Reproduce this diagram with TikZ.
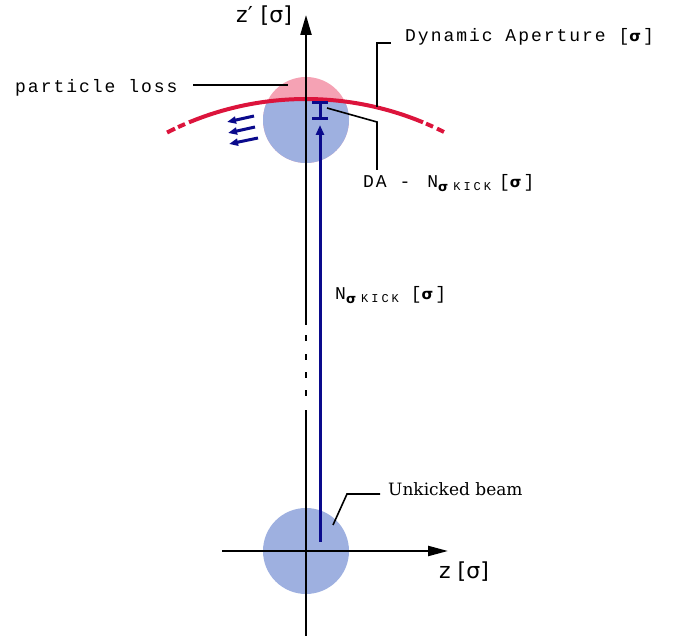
\documentclass[tikz,border=0pt]{standalone}
\usepackage{fontspec}
\usetikzlibrary{arrows.meta,calc}
\setmainfont{DejaVu Serif}
\newfontfamily\cour[LetterSpace=11]{Liberation Mono}
\newfontfamily\courS[LetterSpace=25]{Liberation Mono}
\newfontfamily\sig{DejaVu Sans}
\newfontfamily\axfont{DejaVu Sans}
\definecolor{beamblue}{RGB}{158,176,224}
\definecolor{losspink}{RGB}{245,162,180}
\definecolor{dared}{RGB}{220,20,60}
\definecolor{kicknavy}{RGB}{10,10,140}
\tikzset{
  axisline/.style={line width=2.2pt, black},
  leader/.style={line width=1.6pt, black},
  redarc/.style={line width=4pt, dared},
  kick/.style={line width=3pt, kicknavy},
  monotext/.style={inner sep=0pt, anchor=base west, font=\cour\fontsize{18}{20}\selectfont},
  axtext/.style={inner sep=0pt, anchor=base west, font=\axfont\fontsize{22}{26}\selectfont},
  serftext/.style={inner sep=0pt, anchor=base west, font=\fontsize{17}{20}\selectfont},
}
\newcommand{\msp}{\hspace{12.8pt}}
\newcommand{\bsig}{{\sig\bfseries\fontsize{15}{15}\selectfont σ}}
\newcommand{\subkick}{\raisebox{-4pt}{\sig\bfseries\fontsize{13}{13}\selectfont σ}\hspace{5pt}\raisebox{-3pt}{\courS\fontsize{12}{12}\selectfont KICK}}
\begin{document}
\begin{tikzpicture}[x=1pt,y=1pt]
\useasboundingbox (0,0) rectangle (678,637);
% beams
\fill[beamblue] (306,86) circle[radius=43pt];
\fill[losspink] (306,517) circle[radius=43pt];
\begin{scope}
  \clip (306,233) circle[radius=305pt];
  \fill[beamblue] (306,517) circle[radius=43pt];
\end{scope}
% dynamic aperture arc
\coordinate (arcc) at (306,233);
\draw[redarc] ($(arcc)+(112.56:305pt)$) arc[start angle=112.56, end angle=67.44, radius=305pt];
\draw[redarc] ($(arcc)+(117.11:305pt)$) arc[start angle=117.11, end angle=115.44, radius=305pt];
\draw[redarc] ($(arcc)+(114.81:305pt)$) arc[start angle=114.81, end angle=113.37, radius=305pt];
\draw[redarc] ($(arcc)+(66.83:305pt)$) arc[start angle=66.83, end angle=65.39, radius=305pt];
\draw[redarc] ($(arcc)+(64.56:305pt)$) arc[start angle=64.56, end angle=63.1, radius=305pt];
% axes
\coordinate (vbot) at (306,1);
\coordinate (vb1) at (306,227);
\coordinate (vb2) at (306,312);
\coordinate (vtop) at (306,622);
\draw[axisline] (vbot) -- (vb1);
\foreach \yy in {244,262,280,299} \draw[axisline] (306,\yy-3) -- (306,\yy+3);
\draw[axisline, -{Triangle[length=20pt,width=11pt]}] (vb2) -- (vtop);
\coordinate (hl) at (222,86);
\coordinate (hr) at (448,86);
\draw[axisline, -{Triangle[length=20pt,width=10pt]}] (hl) -- (hr);
% kick
\coordinate (kb) at (320,95);
\coordinate (kt) at (320,512);
\draw[kick, -{Triangle[length=10pt,width=8pt]}] (kb) -- (kt);
\coordinate (ibt) at (320,534);
\coordinate (ibb) at (320,518);
\draw[kick] ([xshift=-8pt]ibt) -- ([xshift=8pt]ibt);
\draw[kick] ([xshift=-8pt]ibb) -- ([xshift=8pt]ibb);
\draw[kick] (ibt) -- (ibb);
% loss arrows
\foreach \xa/\ya/\xb/\yb in {254/521/227/515, 255/510/228/504, 258/499/229/493}
  \draw[kick, -{Triangle[length=9pt,width=7pt]}] (\xa,\ya) -- (\xb,\yb);
% labels
\node[axtext] (zp) at (236,614) {z′\hspace{8pt}[σ]};
\node[axtext] (zl) at (439,58) {z\hspace{7pt}[σ]};
\node[monotext] (pl) at (15,544) {particle\msp loss};
\node[monotext] (dap) at (405,595) {Dynamic\msp Aperture\msp [\bsig\hspace{2pt}]};
\node[monotext] (dan) at (363,449) {DA\msp -\hspace{17pt}N\subkick\hspace{8pt}[\bsig\hspace{2pt}]};
\node[monotext] (nk) at (335,337) {N\subkick\hspace{12pt}[\bsig\hspace{2pt}]};
\node[serftext] (ub) at (388,141) {Unkicked beam};
% leaders
\coordinate (pl1) at (193,552);
\coordinate (pl2) at (288,552);
\draw[leader] (pl1) -- (pl2);
\coordinate (da1) at (377,530);
\coordinate (da2) at (377,594);
\coordinate (da3) at (391,594);
\draw[leader] (da1) -- (da2) -- (da3);
\coordinate (dn1) at (327,529);
\coordinate (dn2) at (377,515);
\coordinate (dn3) at (377,467);
\draw[leader] (dn1) -- (dn2) -- (dn3);
\coordinate (ub1) at (333,112);
\coordinate (ub2) at (347,143);
\coordinate (ub3) at (380,143);
\draw[leader] (ub1) -- (ub2) -- (ub3);
\end{tikzpicture}
\end{document}
